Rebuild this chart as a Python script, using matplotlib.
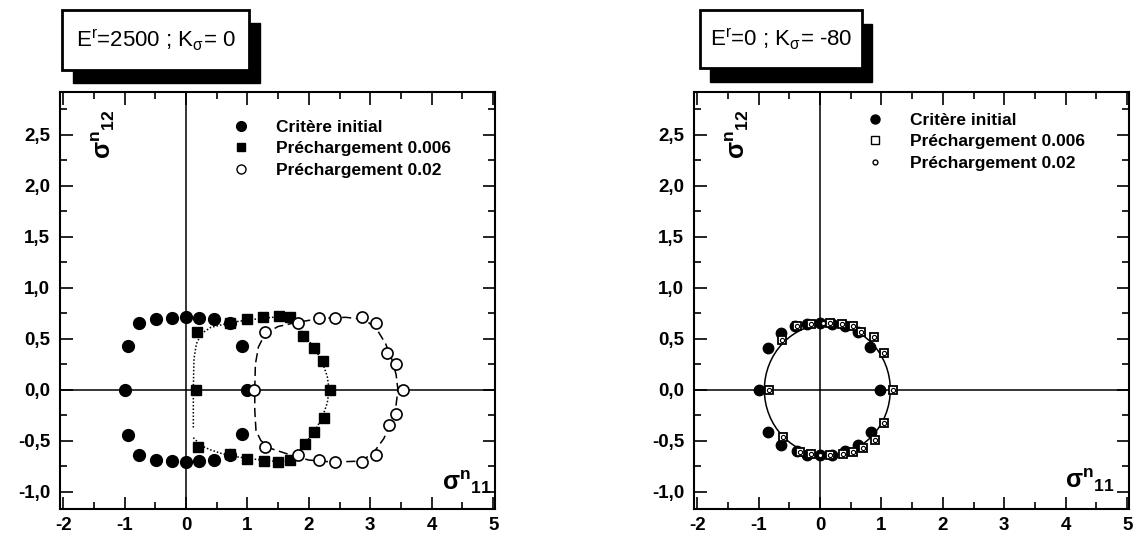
import matplotlib
matplotlib.use('Agg')
import matplotlib.pyplot as plt
from matplotlib.patches import Rectangle, Ellipse
from matplotlib.ticker import MultipleLocator, FuncFormatter
from matplotlib.lines import Line2D

plt.rcParams['font.family'] = ['Liberation Sans', 'DejaVu Sans']
plt.rcParams['axes.unicode_minus'] = False
plt.rcParams['mathtext.fontset'] = 'custom'
plt.rcParams['mathtext.rm'] = 'Liberation Sans'
plt.rcParams['mathtext.it'] = 'Liberation Sans:italic'
plt.rcParams['mathtext.bf'] = 'Liberation Sans:bold'

# ---------------- data : left panel (E^r=2500 ; K_sigma=0) ----------------
L_init_x = [-1.0, -0.95, -0.76, -0.48, -0.23, 0.0, 0.21, 0.46, 0.71, 0.91, 0.99,
            0.91, 0.71, 0.46, 0.21, 0.0, -0.23, -0.48, -0.76, -0.95]
L_init_y = [0.0, 0.43, 0.65, 0.69, 0.70, 0.71, 0.70, 0.69, 0.65, 0.43, 0.0,
            -0.43, -0.64, -0.69, -0.70, -0.71, -0.70, -0.69, -0.64, -0.44]

L_p006_x = [0.16, 0.18, 0.72, 1.00, 1.26, 1.51, 1.70, 1.91, 2.09, 2.23, 2.35,
            2.24, 2.09, 1.93, 1.70, 1.50, 1.27, 0.99, 0.71, 0.20]
L_p006_y = [0.0, 0.57, 0.65, 0.69, 0.71, 0.72, 0.71, 0.53, 0.41, 0.28, 0.0,
            -0.28, -0.41, -0.53, -0.69, -0.71, -0.70, -0.68, -0.63, -0.56]

L_p02_x = [1.11, 1.29, 1.82, 2.17, 2.43, 2.86, 3.09, 3.28, 3.42, 3.53,
           3.42, 3.30, 3.09, 2.86, 2.43, 2.17, 1.83, 1.29]
L_p02_y = [0.0, 0.57, 0.65, 0.70, 0.70, 0.71, 0.65, 0.36, 0.25, 0.0,
           -0.24, -0.35, -0.64, -0.71, -0.71, -0.69, -0.64, -0.56]

# model curves
L_c006_x = [0.12, 0.25, 0.40, 0.60, 0.85, 1.10, 1.40, 1.65, 1.80, 1.95, 2.10, 2.22, 2.30, 2.33,
            2.30, 2.22, 2.10, 1.95, 1.80, 1.65, 1.40, 1.10, 0.85, 0.60, 0.40, 0.25, 0.17, 0.13,
            0.12, 0.12]
L_c006_y = [-0.47, -0.55, -0.59, -0.63, -0.66, -0.68, -0.70, -0.70, -0.64, -0.52, -0.40, -0.27,
            -0.13, 0.0, 0.13, 0.27, 0.40, 0.52, 0.64, 0.71, 0.71, 0.69, 0.67, 0.64, 0.61, 0.55,
            0.45, 0.30, 0.0, -0.38]

L_c02_x = [1.12, 1.13, 1.18, 1.29, 1.50, 1.80, 2.20, 2.60, 2.90, 3.10, 3.25, 3.35, 3.42, 3.45,
           3.42, 3.35, 3.22, 3.05, 2.85, 2.40, 2.00, 1.70, 1.40, 1.22, 1.14, 1.12, 1.12]
L_c02_y = [0.0, 0.25, 0.42, 0.55, 0.62, 0.66, 0.70, 0.71, 0.69, 0.60, 0.45, 0.30, 0.15, 0.0,
           -0.15, -0.30, -0.48, -0.62, -0.70, -0.71, -0.69, -0.64, -0.58, -0.50, -0.40, -0.20, 0.0]

# ---------------- data : right panel (E^r=0 ; K_sigma=-80) ----------------
R_init_x = [-1.0, -0.85, -0.63, -0.40, -0.21, 0.0, 0.20, 0.40, 0.62, 0.82, 0.97,
            0.83, 0.62, 0.40, 0.20, 0.0, -0.21, -0.38, -0.63, -0.84]
R_init_y = [0.0, 0.41, 0.56, 0.62, 0.64, 0.65, 0.64, 0.62, 0.57, 0.42, 0.0,
            -0.41, -0.54, -0.60, -0.64, -0.64, -0.64, -0.60, -0.54, -0.41]

R_p006_x = [-0.83, -0.61, -0.37, -0.15, 0.17, 0.36, 0.54, 0.67, 0.88, 1.05, 1.19,
            1.05, 0.89, 0.70, 0.54, 0.37, 0.16, -0.15, -0.32, -0.60]
R_p006_y = [0.0, 0.49, 0.62, 0.64, 0.65, 0.64, 0.62, 0.57, 0.52, 0.36, 0.0,
            -0.33, -0.49, -0.57, -0.61, -0.63, -0.64, -0.63, -0.61, -0.46]

R_p02_x = [-0.83, -0.61, -0.37, -0.15, 0.05, 0.17, 0.36, 0.54, 0.67, 0.88, 1.05, 1.19,
           1.05, 0.89, 0.70, 0.54, 0.37, 0.16, 0.0, -0.15, -0.32, -0.60]
R_p02_y = [0.0, 0.49, 0.62, 0.64, 0.65, 0.65, 0.64, 0.62, 0.57, 0.52, 0.36, 0.0,
           -0.33, -0.49, -0.57, -0.61, -0.63, -0.64, -0.64, -0.63, -0.61, -0.46]

# fitted criterion (ellipse) on right panel: centre, full width, full height
R_fit_center = (0.12, 0.0)
R_fit_width = 2.05
R_fit_height = 1.29

legend_labels = ['Critère initial', 'Préchargement 0.006', 'Préchargement 0.02']
titles = [r'E$^{\mathrm{r}}$=2500 ; K$_{\mathrm{\sigma}}$= 0',
          r'E$^{\mathrm{r}}$=0 ; K$_{\mathrm{\sigma}}$= -80']
ylab = r'$\mathbf{\sigma}^{\mathbf{n}}{}_{\mathbf{12}}$'
xlab = r'$\mathbf{\sigma}^{\mathbf{n}}{}_{\mathbf{11}}$'

# ---------------- figure ----------------
W, H = 1137, 544
fig = plt.figure(figsize=(W / 100, H / 100), dpi=100)


def rect(l, r, t, b):
    return [l / W, 1 - b / H, (r - l) / W, (b - t) / H]


axL = fig.add_axes(rect(60, 495, 92, 509))
axR = fig.add_axes(rect(694, 1129, 92, 509))


def style(ax):
    ax.set_xlim(-2.05, 5.03)
    ax.set_ylim(-1.17, 2.92)
    ax.xaxis.set_major_locator(MultipleLocator(1))
    ax.xaxis.set_minor_locator(MultipleLocator(0.5))
    ax.yaxis.set_major_locator(MultipleLocator(0.5))
    ax.yaxis.set_minor_locator(MultipleLocator(0.25))
    ax.yaxis.set_major_formatter(FuncFormatter(lambda v, p: f'{v:.1f}'.replace('.', ',')))
    ax.xaxis.set_major_formatter(FuncFormatter(lambda v, p: f'{v:.0f}'))
    ax.tick_params(which='both', direction='in', top=True, right=True, width=1.2,
                   labelsize=13.5)
    ax.tick_params(which='major', length=9)
    ax.tick_params(which='minor', length=5)
    ax.tick_params(axis='x', pad=6)
    ax.tick_params(axis='y', pad=7)
    for lab in ax.get_xticklabels() + ax.get_yticklabels():
        lab.set_fontweight('bold')
    for s in ax.spines.values():
        s.set_linewidth(1.5)
    ax.axhline(0, color='black', lw=1.1, zorder=1)
    ax.axvline(0, color='black', lw=1.1, zorder=1)
    ax.text(0.1, 0.9, ylab, rotation=90, transform=ax.transAxes,
            fontsize=18, ha='center', va='center')


style(axL)
style(axR)

# left panel
axL.plot(L_c006_x, L_c006_y, color='black', ls=(0, (1, 1.3)), lw=1.1, zorder=2)
axL.plot(L_c02_x, L_c02_y, color='black', ls=(0, (6, 3)), lw=1.1, zorder=2)
axL.plot(L_init_x, L_init_y, 'o', color='black', ms=8.5, ls='none', zorder=3)
axL.plot(L_p006_x, L_p006_y, 's', color='black', ms=7.5, ls='none', zorder=3)
axL.plot(L_p02_x, L_p02_y, 'o', mfc='white', mec='black', mew=1.2, ms=8, ls='none', zorder=4)
axL.text(0.935, 0.065, xlab, transform=axL.transAxes,
         fontsize=18, ha='center', va='center')

# right panel
axR.add_patch(Ellipse(R_fit_center, R_fit_width, R_fit_height, fill=False, ec='black', lw=1.1, zorder=2))
axR.plot(R_init_x, R_init_y, 'o', color='black', ms=7.5, ls='none', zorder=3)
axR.plot(R_p006_x, R_p006_y, 's', mfc='white', mec='black', mew=1.3, ms=6, ls='none', zorder=4)
axR.plot(R_p02_x, R_p02_y, 'o', mfc='white', mec='black', mew=0.8, ms=3, ls='none', zorder=5)
axR.text(0.91, 0.07, xlab, transform=axR.transAxes,
         fontsize=18, ha='center', va='center')

# legends
hL = [Line2D([], [], marker='o', color='black', ls='none', ms=7),
      Line2D([], [], marker='s', color='black', ls='none', ms=6),
      Line2D([], [], marker='o', mfc='white', mec='black', ls='none', ms=6.5)]
legL = axL.legend(hL, legend_labels, loc='upper left', bbox_to_anchor=(0.38, 0.95),
                  frameon=False, handlelength=1.0, handletextpad=1.5, labelspacing=0.36,
                  prop={'size': 12.5, 'weight': 'bold'}, borderaxespad=0)
hR = [Line2D([], [], marker='o', color='black', ls='none', ms=6.5),
      Line2D([], [], marker='s', mfc='white', mec='black', ls='none', ms=5.5),
      Line2D([], [], marker='o', mfc='white', mec='black', ls='none', ms=3.5)]
legR = axR.legend(hR, legend_labels, loc='upper left', bbox_to_anchor=(0.38, 0.967),
                  frameon=False, handlelength=1.0, handletextpad=1.5, labelspacing=0.36,
                  prop={'size': 12.5, 'weight': 'bold'}, borderaxespad=0)

# title boxes with drop shadow
def shadow_box(l, r, t, b, dx, dy, text):
    fig.patches.append(Rectangle(((l + dx) / W, 1 - (b + dy) / H), (r - l) / W, (b - t) / H,
                                 transform=fig.transFigure, facecolor='black', edgecolor='black'))
    fig.patches.append(Rectangle((l / W, 1 - b / H), (r - l) / W, (b - t) / H,
                                 transform=fig.transFigure, facecolor='white', edgecolor='black',
                                 lw=2))
    fig.text((l + r) / 2 / W, 1 - (t + b) / 2 / H, text, ha='center', va='center', fontsize=16)


shadow_box(62, 249, 10, 70, 11, 13, titles[0])
shadow_box(700, 862, 10, 68, 10, 14, titles[1])

fig.savefig('out.png', dpi=100)
